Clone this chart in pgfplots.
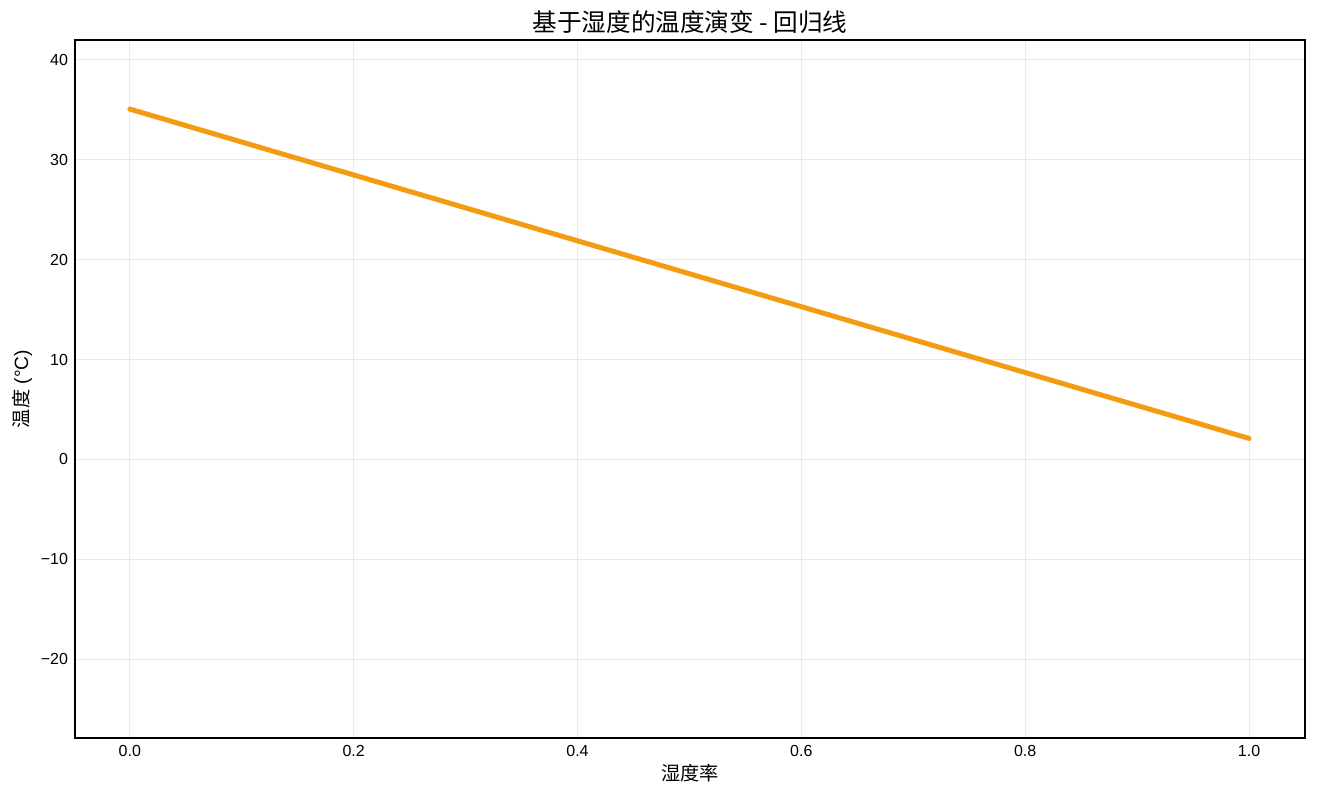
\documentclass[border=0pt]{standalone}
\usepackage{pgfplots}
\pgfplotsset{compat=1.18}
\usepackage{fontspec}
\setmainfont{Liberation Sans}
\newfontfamily\cjk{Noto Sans CJK SC}
\definecolor{lineorange}{RGB}{243,156,18}
\definecolor{gridgray}{RGB}{234,234,234}
\begin{document}
\begin{tikzpicture}[x=1pt,y=1pt]
\begin{axis}[
  name=ax,
  scale only axis,
  width=615pt, height=349pt,
  xmin=-0.049, xmax=1.05,
  ymin=-27.9, ymax=42.0,
  xtick={0,0.2,...,1.0},
  ytick={-20,-10,0,10,20,30,40},
  yticklabels={−20,−10,0,10,20,30,40},
  xticklabel style={/pgf/number format/.cd,fixed,fixed zerofill,precision=1},
  /pgf/number format/assume math mode=true,
  tick style={draw=none},
  ticklabel style={font=\fontsize{8}{9}\selectfont},
  grid=major,
  major grid style={gridgray, line width=0.5pt},
  axis line style={black, line width=0.75pt},
  title={\cjk 基于湿度的温度演变 - 回归线},
  title style={font=\fontsize{12.3}{14}\selectfont, yshift=-6.5pt},
  xlabel={\cjk 湿度率},
  ylabel={{\cjk 温度} (°C)},
  xlabel style={font=\fontsize{9.6}{11}\selectfont, yshift=3pt},
  ylabel style={font=\fontsize{9.6}{11}\selectfont, yshift=-2.5pt},
]
\addplot[lineorange, line width=2.5pt, line cap=round] coordinates {(0,35.08) (1,2.1)};
\end{axis}
\useasboundingbox (ax.south west) ++(-37.5pt,-31pt) rectangle ([xshift=6.5pt,yshift=20pt]ax.north east);
\end{tikzpicture}
\end{document}
